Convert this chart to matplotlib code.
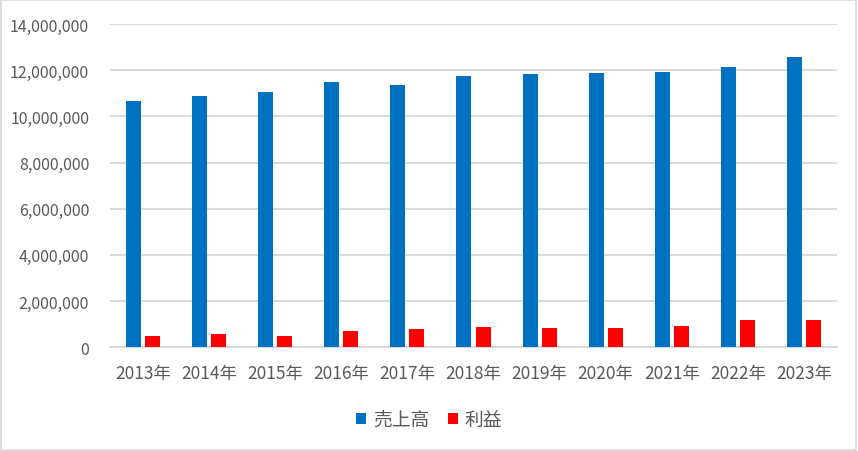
import matplotlib
matplotlib.use('Agg')
import matplotlib.pyplot as plt
import numpy as np
from matplotlib.ticker import FuncFormatter
from matplotlib.patches import Rectangle

plt.rcParams['font.family'] = ['Noto Sans CJK JP', 'DejaVu Sans']

# Data
years = ['2013年', '2014年', '2015年', '2016年', '2017年', '2018年',
         '2019年', '2020年', '2021年', '2022年', '2023年']
sales = [10670000, 10880000, 11060000, 11490000, 11360000, 11750000,
         11840000, 11880000, 11920000, 12140000, 12570000]
profit = [490000, 580000, 490000, 710000, 790000, 880000,
          840000, 840000, 920000, 1180000, 1180000]

text_color = '#595959'
grid_color = '#D9D9D9'

fig = plt.figure(figsize=(8.58, 4.52), dpi=100)
ax = fig.add_axes([0.1282, 0.2294, 0.8473, 0.7153])

x = np.arange(len(years))
w = 0.227
off = 0.144
ax.bar(x - off, sales, width=w, color='#0070C0', label='売上高', zorder=3)
ax.bar(x + off, profit, width=w, color='#FF0000', label='利益', zorder=3)

ax.set_xlim(-0.5, len(years) - 0.5)
ax.set_ylim(0, 14000000)
ax.set_yticks(np.arange(0, 14000001, 2000000))
ax.yaxis.set_major_formatter(FuncFormatter(lambda v, p: f'{int(v):,}'))
ax.set_xticks(x)
ax.set_xticklabels(years)

ax.grid(axis='y', color=grid_color, linewidth=1.4, zorder=0)
for s in ['top', 'right', 'left']:
    ax.spines[s].set_visible(False)
ax.spines['bottom'].set_color(grid_color)
ax.spines['bottom'].set_linewidth(1.4)
ax.tick_params(axis='both', length=0, colors=text_color)
ax.tick_params(axis='y', pad=15, labelsize=11.5)
ax.tick_params(axis='x', pad=12, labelsize=12.5)

leg = fig.legend(loc='center', bbox_to_anchor=(0.5, 0.07), ncol=2, frameon=False,
                 fontsize=13.5, handlelength=0.55, handleheight=0.55,
                 handletextpad=0.35, columnspacing=1.0)
for t in leg.get_texts():
    t.set_color(text_color)

fig.patches.append(Rectangle((0.001, 0.002), 0.997, 0.995, transform=fig.transFigure,
                             fill=False, edgecolor='#D9D9D9', linewidth=1.2))

fig.savefig('out.png', dpi=100)
